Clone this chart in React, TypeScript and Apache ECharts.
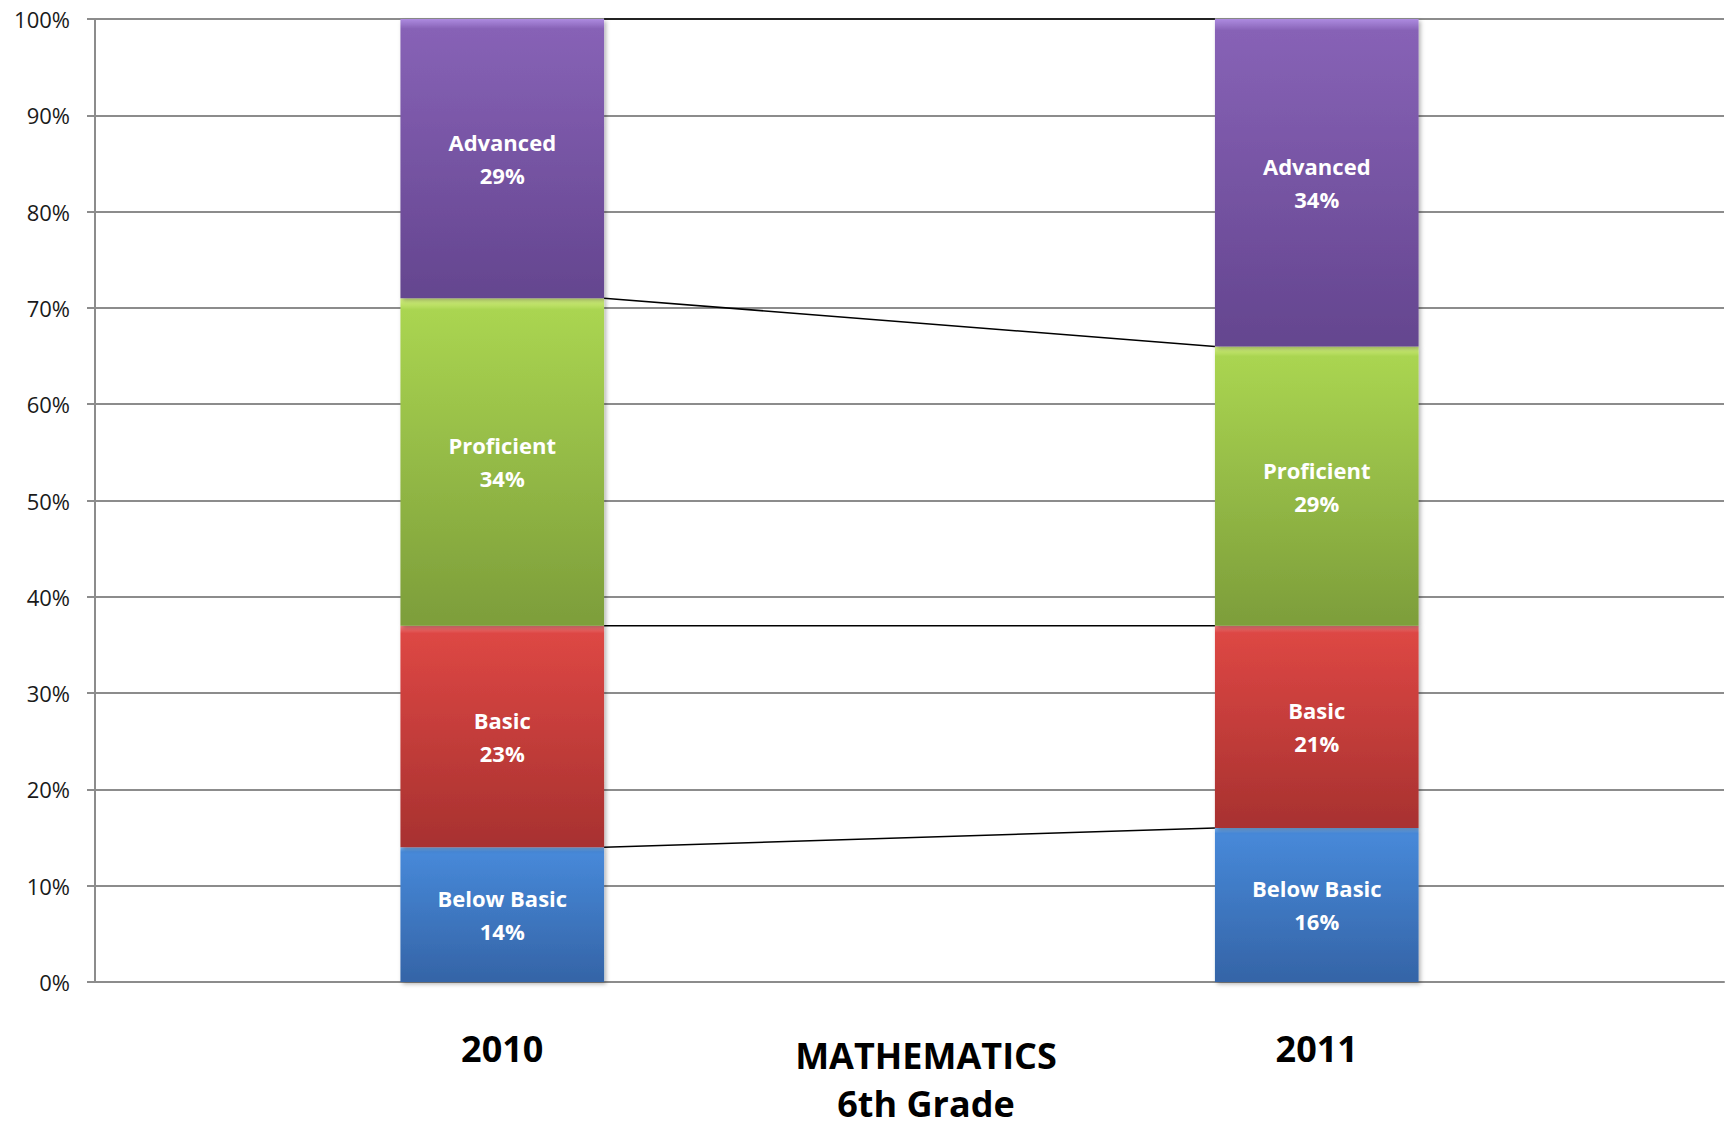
import React, { useEffect, useRef } from "react";
import * as echarts from "echarts";

const years = ["2010", "2011"];
const levels = ["Below Basic", "Basic", "Proficient", "Advanced"];
const belowBasic = [14, 16];
const basic = [23, 21];
const proficient = [34, 29];
const advanced = [29, 34];
const yTicks = [0, 10, 20, 30, 40, 50, 60, 70, 80, 90, 100];
const titleLines = ["MATHEMATICS", "6th Grade"];

const seriesValues = [belowBasic, basic, proficient, advanced];
const palette = [
  { hi: "#7fb6f4", top: "#4789d9", bottom: "#3565a8" },
  { hi: "#f58080", top: "#dd4744", bottom: "#a93230" },
  { hi: "#d6f284", top: "#aad551", bottom: "#7e9f3b" },
  { hi: "#ad8be0", top: "#8762b6", bottom: "#654690" },
];

const FONT = "'Open Sans', 'Liberation Sans', sans-serif";

export default function App() {
  const ref = useRef<HTMLDivElement>(null);

  useEffect(() => {
    document.body.style.margin = "0";
    const chart = echarts.init(ref.current!, null, { renderer: "svg" });

    // cumulative boundaries for connector lines
    const connectors: number[][] = [];
    let c0 = 0;
    let c1 = 0;
    seriesValues.forEach((vals) => {
      c0 += vals[0];
      c1 += vals[1];
      connectors.push([0, c0, c1]);
    });

    const bars = levels.map((name, i) => ({
      name,
      type: "bar",
      stack: "total",
      barWidth: "25%",
      data: seriesValues[i],
      itemStyle: {
        color: new echarts.graphic.LinearGradient(0, 0, 0, 1, [
          { offset: 0, color: palette[i].hi },
          { offset: 0.035, color: palette[i].top },
          { offset: 0.97, color: palette[i].bottom },
          { offset: 1, color: palette[i].bottom },
        ]),
        shadowBlur: 4,
        shadowOffsetX: 2,
        shadowOffsetY: 2,
        shadowColor: "rgba(0,0,0,0.3)",
      },
      label: {
        show: true,
        position: "inside",
        formatter: (p: any) => `${p.seriesName}\n${p.value}%`,
        color: "#ffffff",
        fontFamily: FONT,
        fontWeight: "bold",
        fontSize: 22,
        lineHeight: 33,
      },
      z: 3,
    }));

    const lineSeries = {
      type: "custom",
      data: connectors,
      encode: { x: 0, y: [1, 2] },
      z: 2,
      renderItem: (params: any, api: any) => {
        const v0 = api.value(1);
        const v1 = api.value(2);
        const p0 = api.coord([0, v0]);
        const p1 = api.coord([1, v1]);
        const band = api.size([1, 0])[0];
        const half = (band * 0.25) / 2;
        return {
          type: "line",
          shape: { x1: p0[0] + half, y1: p0[1], x2: p1[0] - half, y2: p1[1] },
          style: { stroke: "#000000", lineWidth: 1.5 },
        };
      },
    };

    chart.setOption({
      animation: false,
      grid: { left: 95, right: 8, top: 19, bottom: 146, containLabel: false },
      xAxis: {
        type: "category",
        data: years,
        axisLine: { show: true, lineStyle: { color: "#8c8c8c", width: 2 } },
        axisTick: { show: false },
        axisLabel: {
          color: "#000000",
          fontFamily: FONT,
          fontWeight: "bold",
          fontSize: 36,
          margin: 48,
        },
      },
      yAxis: {
        type: "value",
        min: yTicks[0],
        max: yTicks[yTicks.length - 1],
        interval: yTicks[1] - yTicks[0],
        axisLine: { show: true, lineStyle: { color: "#8c8c8c", width: 2 } },
        axisTick: { show: true, length: 8, lineStyle: { color: "#8c8c8c", width: 2 } },
        splitLine: { show: true, lineStyle: { color: "#8c8c8c", width: 2 } },
        axisLabel: {
          formatter: "{value}%",
          color: "#1a1a1a",
          fontFamily: FONT,
          fontSize: 22,
          margin: 25,
        },
      },
      graphic: [
        {
          type: "text",
          x: 926,
          y: 1079,
          style: {
            text: titleLines.join("\n"),
            fill: "#000000",
            font: `bold 36px ${FONT}`,
            lineHeight: 48,
            textAlign: "center",
            textVerticalAlign: "middle",
          },
        },
      ],
      series: [...bars, lineSeries],
    });

    return () => chart.dispose();
  }, []);

  return <div ref={ref} style={{ width: 1732, height: 1128 }} />;
}
